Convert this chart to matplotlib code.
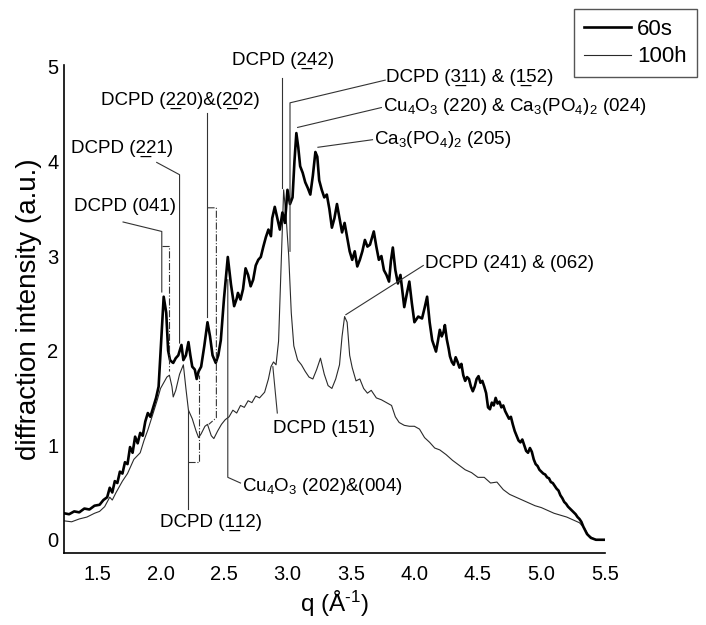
import matplotlib
matplotlib.use("Agg")
from matplotlib import pyplot as plt
from matplotlib import font_manager

# Diffraction profiles (q in 1/A, intensity in a.u.)
q_60s = [1.24, 1.28, 1.32, 1.36, 1.40, 1.44, 1.48, 1.52, 1.55, 1.58, 1.60, 1.62, 1.64, 1.66,
         1.68, 1.70, 1.72, 1.74, 1.76, 1.78, 1.80, 1.82, 1.84, 1.86, 1.88, 1.90, 1.92, 1.945,
         1.965, 1.985, 2.005, 2.025, 2.045, 2.06, 2.075, 2.09, 2.10, 2.12, 2.14, 2.165, 2.18,
         2.20, 2.22, 2.235, 2.25, 2.27, 2.285, 2.30, 2.32, 2.345, 2.37, 2.39, 2.41, 2.435,
         2.455, 2.475, 2.50, 2.53, 2.555, 2.58, 2.60, 2.61, 2.63, 2.65, 2.67, 2.69, 2.71, 2.73,
         2.75, 2.77, 2.79, 2.81, 2.83, 2.85, 2.87, 2.88, 2.90, 2.92, 2.94, 2.96, 2.98, 3.00,
         3.02, 3.04, 3.055, 3.07, 3.085, 3.10, 3.12, 3.14, 3.16, 3.18, 3.20, 3.22, 3.235, 3.25,
         3.27, 3.29, 3.31, 3.33, 3.35, 3.37, 3.39, 3.41, 3.43, 3.45, 3.47, 3.49, 3.51, 3.53,
         3.55, 3.57, 3.59, 3.61, 3.63, 3.65, 3.68, 3.70, 3.72, 3.74, 3.76, 3.78, 3.80, 3.815,
         3.83, 3.85, 3.87, 3.89, 3.92, 3.94, 3.96, 3.98, 4.00, 4.03, 4.06, 4.08, 4.10, 4.12,
         4.14, 4.155, 4.17, 4.185, 4.20, 4.215, 4.23, 4.24, 4.255, 4.27, 4.28, 4.295, 4.31,
         4.325, 4.34, 4.355, 4.37, 4.385, 4.40, 4.415, 4.43, 4.445, 4.46, 4.475, 4.49, 4.505,
         4.52, 4.535, 4.55, 4.565, 4.58, 4.595, 4.61, 4.625, 4.64, 4.655, 4.67, 4.685, 4.70,
         4.715, 4.73, 4.745, 4.76, 4.775, 4.79, 4.805, 4.82, 4.835, 4.85, 4.865, 4.88, 4.895,
         4.91, 4.925, 4.94, 4.955, 4.97, 4.985, 5.00, 5.015, 5.03, 5.045, 5.06, 5.075, 5.09,
         5.105, 5.12, 5.135, 5.15, 5.165, 5.18, 5.195, 5.21, 5.225, 5.24, 5.255, 5.27, 5.285,
         5.30, 5.315, 5.33, 5.345, 5.36, 5.375, 5.39, 5.41, 5.43, 5.47, 5.50]
i_60s = [0.28, 0.27, 0.30, 0.29, 0.33, 0.32, 0.36, 0.37, 0.42, 0.45, 0.55, 0.50, 0.62, 0.60,
         0.72, 0.70, 0.82, 0.80, 0.98, 0.92, 1.09, 1.02, 1.13, 1.10, 1.25, 1.34, 1.30, 1.41,
         1.50, 1.62, 2.10, 2.57, 2.40, 2.00, 1.90, 1.88, 1.87, 1.92, 1.95, 2.06, 1.90,
         1.95, 2.09, 1.95, 1.83, 1.80, 1.70, 1.78, 1.83, 2.05, 2.30, 2.15, 1.95, 1.87,
         1.95, 2.11, 2.55, 2.99, 2.70, 2.47, 2.55, 2.61, 2.54, 2.65, 2.87, 2.80, 2.68, 2.75,
         2.90, 2.96, 2.99, 3.10, 3.20, 3.28, 3.21, 3.40, 3.52, 3.40, 3.28, 3.46, 3.35, 3.70,
         3.55, 3.62, 4.00, 4.30, 4.15, 3.95, 3.88, 3.78, 3.72, 3.65, 3.85, 4.10, 4.05, 3.80,
         3.70, 3.62, 3.65, 3.50, 3.30, 3.40, 3.55, 3.40, 3.25, 3.35, 3.20, 3.05, 2.96, 3.05,
         2.89, 2.96, 3.05, 3.17, 3.10, 3.12, 3.26, 3.10, 2.96, 3.00, 2.85, 2.80, 2.73, 2.95,
         3.09, 2.85, 2.71, 2.80, 2.46, 2.60, 2.73, 2.50, 2.30, 2.36, 2.34, 2.45, 2.57, 2.30,
         2.11, 2.05, 1.99, 2.10, 2.22, 2.15, 2.20, 2.27, 2.12, 2.02, 1.94, 1.88, 1.85,
         1.93, 1.88, 1.82, 1.86, 1.74, 1.68, 1.72, 1.70, 1.62, 1.57, 1.62, 1.70, 1.73,
         1.66, 1.68, 1.62, 1.55, 1.40, 1.38, 1.45, 1.42, 1.50, 1.44, 1.46, 1.40, 1.42,
         1.36, 1.32, 1.28, 1.30, 1.22, 1.15, 1.10, 1.05, 1.03, 1.06, 1.00, 0.94, 0.92,
         0.97, 0.93, 0.85, 0.80, 0.78, 0.74, 0.72, 0.70, 0.69, 0.66, 0.65, 0.61, 0.60,
         0.57, 0.54, 0.52, 0.47, 0.44, 0.40, 0.38, 0.35, 0.33, 0.31, 0.29, 0.27, 0.24,
         0.22, 0.19, 0.14, 0.10, 0.06, 0.04, 0.02, 0.01, 0.00, 0.00, 0.00]

q_100h = [1.24, 1.30, 1.36, 1.42, 1.48, 1.52, 1.56, 1.60, 1.62, 1.65, 1.70, 1.74, 1.79, 1.84,
          1.87, 1.90, 1.94, 1.975, 2.00, 2.025, 2.05, 2.07, 2.09, 2.10, 2.12, 2.15, 2.18, 2.20,
          2.22, 2.25, 2.28, 2.30, 2.32, 2.35, 2.37, 2.40, 2.42, 2.45, 2.48, 2.51, 2.54, 2.57,
          2.60, 2.63, 2.66, 2.69, 2.72, 2.75, 2.78, 2.82, 2.85, 2.87, 2.89, 2.91, 2.93, 2.95,
          2.97, 2.99, 3.01, 3.03, 3.05, 3.08, 3.11, 3.14, 3.17, 3.20, 3.23, 3.26, 3.29, 3.32,
          3.35, 3.38, 3.41, 3.43, 3.45, 3.47, 3.49, 3.51, 3.54, 3.57, 3.60, 3.63, 3.66, 3.70,
          3.74, 3.78, 3.82, 3.85, 3.88, 3.92, 3.96, 4.00, 4.04, 4.08, 4.12, 4.16, 4.20, 4.25,
          4.30, 4.35, 4.40, 4.45, 4.50, 4.55, 4.60, 4.65, 4.70, 4.75, 4.80, 4.85, 4.90, 4.95,
          5.00, 5.05, 5.10, 5.15, 5.20, 5.25, 5.30, 5.34, 5.37, 5.40, 5.43, 5.50]
i_100h = [0.20, 0.19, 0.22, 0.24, 0.28, 0.30, 0.35, 0.45, 0.42, 0.50, 0.62, 0.70, 0.85, 0.92,
          1.05, 1.16, 1.33, 1.48, 1.60, 1.66, 1.72, 1.74, 1.62, 1.51, 1.58, 1.75, 1.85, 1.60,
          1.37, 1.28, 1.15, 1.08, 1.12, 1.20, 1.22, 1.10, 1.07, 1.15, 1.22, 1.27, 1.30, 1.37,
          1.34, 1.42, 1.40, 1.47, 1.45, 1.52, 1.50, 1.56, 1.70, 1.83, 1.88, 1.85, 2.10, 2.90,
          3.70, 3.40, 3.00, 2.40, 2.05, 1.90, 1.85, 1.78, 1.72, 1.70, 1.80, 1.92, 1.75, 1.63,
          1.60, 1.70, 1.85, 2.15, 2.36, 2.30, 1.95, 1.82, 1.68, 1.70, 1.60, 1.55, 1.58, 1.50,
          1.48, 1.45, 1.42, 1.30, 1.24, 1.21, 1.20, 1.20, 1.17, 1.08, 1.03, 0.97, 0.95, 0.90,
          0.84, 0.79, 0.74, 0.71, 0.66, 0.66, 0.60, 0.61, 0.53, 0.48, 0.45, 0.42, 0.39, 0.36,
          0.34, 0.31, 0.28, 0.26, 0.24, 0.21, 0.18, 0.12, 0.05, 0.02, 0.00, 0.00]

x_ticks = [1.5, 2.0, 2.5, 3.0, 3.5, 4.0, 4.5, 5.0, 5.5]
y_ticks = [0, 1, 2, 3, 4, 5]

# narrow sans if installed, else plain Liberation Sans (Arial metrics)
available = {f.name for f in font_manager.fontManager.ttflist}
narrow = "Liberation Sans Narrow" in available
font = "Liberation Sans Narrow" if narrow else "Liberation Sans"
fs = 16 if narrow else 13.5
plt.rcParams["font.family"] = [font, "DejaVu Sans"]
plt.rcParams["mathtext.fontset"] = "custom"
plt.rcParams["mathtext.rm"] = font
plt.rcParams["mathtext.it"] = font + ":italic"
plt.rcParams["mathtext.bf"] = font + ":bold"

U = "\u0332"  # combining underline, goes after the underlined digit

fig = plt.figure(figsize=(7.06, 6.25), dpi=100)
ax = fig.add_axes([0.0907, 0.1152, 0.766, 0.7808])

ax.plot(q_60s, i_60s, color="black", lw=1.9, label="60s", zorder=3)
ax.plot(q_100h, i_100h, color="#2a2a2a", lw=0.8, label="100h", zorder=2)

ax.set_xlim(1.24, 5.5)
ax.set_ylim(-0.14, 5.02)
ax.set_xticks(x_ticks)
ax.set_xticklabels([f"{t:.1f}" for t in x_ticks])
ax.set_yticks(y_ticks)
ax.tick_params(length=0, labelsize=fs + 1, pad=4)
ax.tick_params(axis="x", pad=9)
for s in ["top", "right"]:
    ax.spines[s].set_visible(False)
for s in ["left", "bottom"]:
    ax.spines[s].set_linewidth(1.2)

ax.set_xlabel(r"q (Å$^{\text{-1}}$)", fontsize=fs + 4, labelpad=3)
ax.set_ylabel("diffraction intensity (a.u.)", fontsize=fs + 6.5, labelpad=4)

# leader lines
lead = dict(color="#333333", lw=0.8, clip_on=False, zorder=4)
dash = dict(color="#333333", lw=0.8, ls="-.", clip_on=False, zorder=4)

def note(x, y, txt, ha="center"):
    ax.text(x, y, txt, ha=ha, va="center", fontsize=fs, clip_on=False)

note(2.965, 5.07, f"DCPD (2{U}42)")
ax.plot([2.96, 2.96], [4.88, 3.72], **lead)

note(3.78, 4.89, f"DCPD (3{U}11) & (1{U}52)", ha="left")
ax.plot([3.77, 3.02, 3.02], [4.86, 4.62, 3.05], **lead)

note(3.75, 4.58, r"Cu$_4$O$_3$ (220) & Ca$_3$(PO$_4$)$_2$ (024)", ha="left")
ax.plot([3.74, 3.08], [4.57, 4.36], **lead)

note(3.68, 4.23, r"Ca$_3$(PO$_4$)$_2$ (205)", ha="left")
ax.plot([3.67, 3.24], [4.23, 4.15], **lead)

note(2.16, 4.65, f"DCPD (2{U}20)&(2{U}02)")
ax.plot([2.37, 2.37], [4.51, 2.36], **lead)
ax.plot([2.37, 2.44, 2.44, 2.38], [3.51, 3.51, 1.29, 1.22], **dash)

note(1.70, 4.14, f"DCPD (2{U}21)")
ax.plot([1.97, 2.15, 2.15], [3.99, 3.86, 2.08], **lead)

note(1.72, 3.52, "DCPD (041)")
ax.plot([1.705, 2.01, 2.01], [3.36, 3.26, 2.62], **lead)
ax.plot([2.01, 2.07, 2.07], [3.11, 3.11, 1.78], **dash)

note(2.40, 0.18, f"DCPD (1{U}12)")
ax.plot([2.22, 2.22], [0.32, 1.37], **lead)
ax.plot([2.22, 2.30, 2.30], [0.82, 0.82, 1.74], **dash)

note(2.64, 0.56, r"Cu$_4$O$_3$ (202)&(004)", ha="left")
ax.plot([2.63, 2.53, 2.53], [0.60, 0.66, 2.75], **lead)

note(2.89, 1.18, "DCPD (151)", ha="left")
ax.plot([2.92, 2.885], [1.34, 1.83], **lead)

note(4.08, 2.92, "DCPD (241) & (062)", ha="left")
ax.plot([4.07, 3.46], [2.90, 2.38], **lead)

fig.legend(loc="upper right", bbox_to_anchor=(0.987, 0.986), fontsize=fs + 2.5,
           frameon=True, fancybox=False, edgecolor="#555555", framealpha=1,
           handlelength=2.1, handletextpad=0.3, borderpad=0.45, labelspacing=0.3,
           borderaxespad=0)

fig.savefig("out.png", dpi=100)
